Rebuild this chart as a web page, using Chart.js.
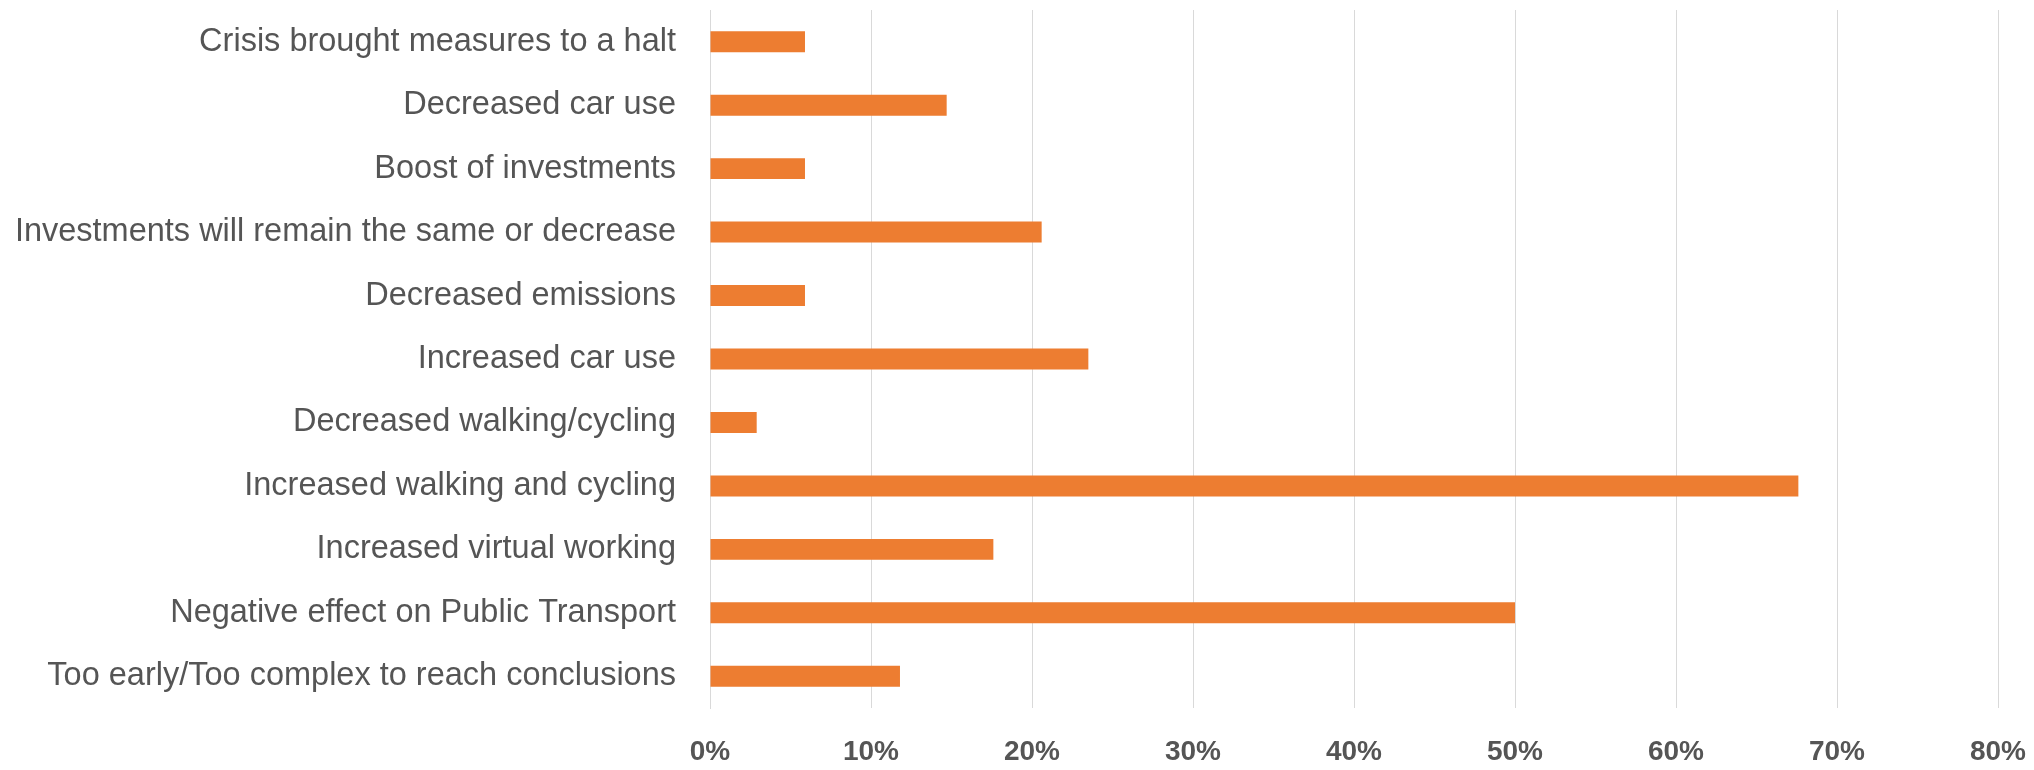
<!DOCTYPE html>
<html>
<head>
<meta charset="utf-8">
<script src="https://cdn.jsdelivr.net/npm/chart.js@4"></script>
<style>
  html, body { margin: 0; padding: 0; background: #fff; }
  #wrap { width: 2034px; height: 770px; }
</style>
</head>
<body>
<div id="wrap"><canvas id="grafica"></canvas></div>
<script>
// categorias (de arriba hacia abajo) y porcentajes
const categorias = [
  "Crisis brought measures to a halt",
  "Decreased car use",
  "Boost of investments",
  "Investments will remain the same or decrease",
  "Decreased emissions",
  "Increased car use",
  "Decreased walking/cycling",
  "Increased walking and cycling",
  "Increased virtual working",
  "Negative effect on Public Transport",
  "Too early/Too complex to reach conclusions"
];
const porcentajes = [5.9, 14.7, 5.9, 20.6, 5.9, 23.5, 2.9, 67.6, 17.6, 50.0, 11.8];
const ticksX = [0, 10, 20, 30, 40, 50, 60, 70, 80];

new Chart(document.getElementById("grafica"), {
  type: "bar",
  data: {
    labels: categorias,
    datasets: [{
      data: porcentajes,
      backgroundColor: "#ED7D31",
      borderWidth: 0,
      barPercentage: 1,
      categoryPercentage: 0.33
    }]
  },
  options: {
    indexAxis: "y",
    responsive: true,
    maintainAspectRatio: false,
    animation: false,
    layout: { padding: { top: 10, right: 0, left: 0, bottom: 0 } },
    plugins: { legend: { display: false }, tooltip: { enabled: false } },
    scales: {
      x: {
        min: 0,
        max: 80,
        afterBuildTicks: axis => { axis.ticks = ticksX.map(v => ({ value: v })); },
        afterFit: axis => {
          axis.height = 62;
          axis.paddingLeft = 0;
          axis.paddingRight = 36;
        },
        grid: { color: "#d9d9d9", lineWidth: 1, drawTicks: false },
        border: { display: false },
        ticks: {
          padding: 27,
          color: "#555555",
          font: { family: "'Liberation Sans', Arial, sans-serif", size: 28, weight: "bold" },
          callback: v => v + "%"
        }
      },
      y: {
        afterFit: axis => {
          axis.width = 710;
          axis.paddingTop = 0;
          axis.paddingBottom = 0;
        },
        grid: { display: false, drawTicks: false },
        border: { display: true, color: "#d9d9d9", width: 1 },
        ticks: {
          padding: 34,
          color: "#555555",
          font: { family: "'Liberation Sans', Arial, sans-serif", size: 32.5 }
        }
      }
    }
  }
});
</script>
</body>
</html>
